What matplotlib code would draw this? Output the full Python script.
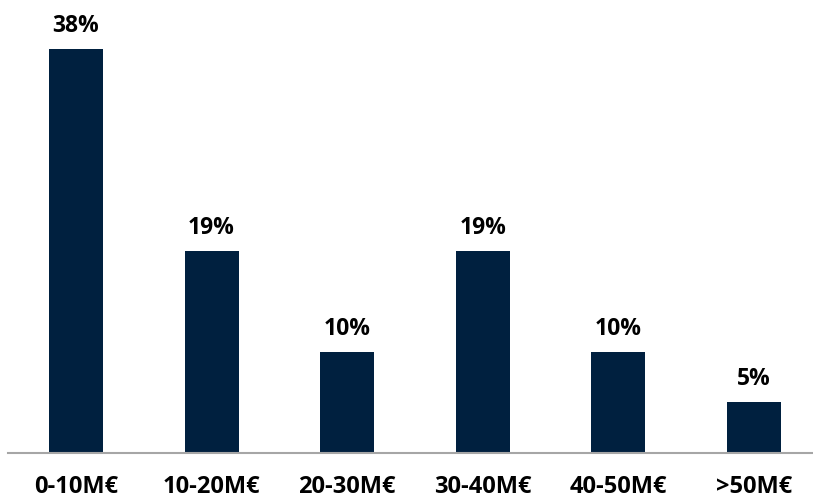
import matplotlib
matplotlib.use("Agg")
import matplotlib.pyplot as plt

categories = ["0-10M€", "10-20M€", "20-30M€", "30-40M€", "40-50M€", ">50M€"]
values = [38.1, 19.05, 9.52, 19.05, 9.52, 4.76]
labels = ["38%", "19%", "10%", "19%", "10%", "5%"]

W, H = 813, 499
fig = plt.figure(figsize=(W / 100, H / 100), dpi=100)
base_px = 452.5
ax = fig.add_axes([8 / W, (H - base_px) / H, (W - 8) / W, base_px / H])

x = list(range(len(categories)))
ax.bar(x, values, width=0.398, color="#00203F", zorder=2)
ax.set_xlim((8 - 76) / 135.6, (813 - 76) / 135.6)
ax.set_ylim(0, base_px / 10.58)

for xi, v, lab in zip(x, values, labels):
    ax.text(xi, v + 1.6, lab, ha="center", va="baseline", fontsize=16.5,
            fontweight="bold", family="Open Sans", color="#000000")

for s in ["top", "right", "left"]:
    ax.spines[s].set_visible(False)
ax.spines["bottom"].set_color("#A6A6A6")
ax.spines["bottom"].set_linewidth(1.5)
ax.set_yticks([])
ax.set_xticks(x)
ax.set_xticklabels(categories, fontsize=17, fontweight="bold", family="Open Sans")
ax.tick_params(axis="x", length=0, pad=16.5)

fig.savefig("out.png", dpi=100)
